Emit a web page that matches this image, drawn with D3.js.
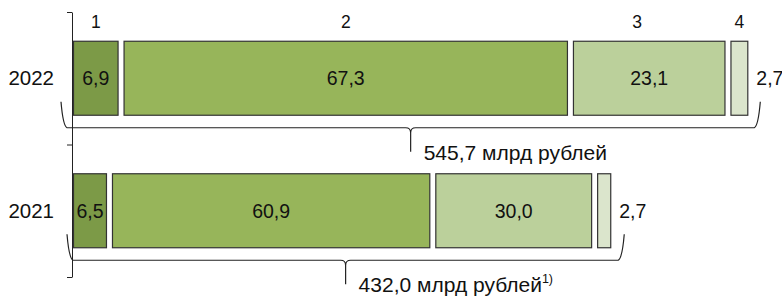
<!DOCTYPE html>
<html>
<head>
<meta charset="utf-8">
<script src="https://cdn.jsdelivr.net/npm/d3@7"></script>
<style>
  body { margin: 0; background: #fff; }
  svg { display: block; font-family: Arial, "Liberation Sans", sans-serif; }
</style>
</head>
<body>
<div id="chart"></div>
<script>
// données
const years = ["2022", "2021"];
const categories = ["1", "2", "3", "4"];
const shares2022 = [6.9, 67.3, 23.1, 2.7];
const shares2021 = [6.5, 60.9, 30.0, 2.7];
const totals = [545.7, 432.0];
const totalLabels = ["545,7 млрд рублей", "432,0 млрд рублей"];
const notes = ["", "1)"];

const shares = [shares2022, shares2021];
const colors = ["#7c9a47", "#97b55a", "#bbd09b", "#dbe5cc"];
const fmt = v => d3.format(".1f")(v).replace(".", ",");

const W = 782, H = 297;
const left = 73, gap = 5;
const braceLeft = [11, 5], braceRight = [11, 12]; // décalage des accolades
const catNudge = [0, 0, -12, 0];

const svg = d3.select("#chart").append("svg")
    .attr("width", W)
    .attr("height", H);

// échelles
const x = d3.scaleLinear().domain([0, 600]).range([0, 726]); // px par mlrd
const y = d3.scaleBand().domain(years).range([12, 277])
    .paddingInner(0.434).paddingOuter(0.217);

// axe vertical avec séparateurs
const yb = d3.scaleLinear().domain([0, years.length]).range([12, 277]);
svg.append("g")
    .attr("transform", `translate(${left - 1},0)`)
    .call(d3.axisLeft(yb).ticks(years.length).tickSize(5).tickSizeOuter(0).tickFormat(""))
    .call(g => g.selectAll("path, line").attr("stroke", "#222"));

years.forEach((year, i) => {
    const total = totals[i];
    let cum = 0;
    const segs = shares[i].map((v, j) => {
        const amount = v * total / 100;
        const s = { cat: categories[j], v, x0: left + x(cum) + j * gap, w: x(amount) };
        cum += amount;
        return s;
    });
    const y0 = y(year), bh = y.bandwidth(), yc = y0 + bh / 2;
    const end = segs[segs.length - 1].x0 + segs[segs.length - 1].w;

    const row = svg.append("g");

    row.selectAll("rect")
        .data(segs)
        .enter()
        .append("rect")
        .attr("x", d => d.x0 + 0.5)
        .attr("y", y0 + 0.5)
        .attr("width", d => d.w - 1)
        .attr("height", bh - 1)
        .attr("fill", (d, j) => colors[j])
        .attr("stroke", "#333")
        .attr("stroke-width", 1.2);

    // étiquettes de valeurs
    row.selectAll("text.val")
        .data(segs)
        .enter()
        .append("text")
        .attr("class", "val")
        .attr("x", (d, j) => j < 3 ? d.x0 + d.w / 2 : end + 8)
        .attr("y", yc)
        .attr("dy", "0.35em")
        .attr("text-anchor", (d, j) => j < 3 ? "middle" : "start")
        .attr("font-size", 19.5)
        .attr("fill", "#111")
        .text(d => fmt(d.v));

    // année
    row.append("text")
        .attr("x", 54)
        .attr("y", yc)
        .attr("dy", "0.35em")
        .attr("text-anchor", "end")
        .attr("font-size", 20.5)
        .attr("fill", "#111")
        .text(year);

    // numéros de catégories au-dessus de la première barre
    if (i === 0) {
        svg.selectAll("text.cat")
            .data(segs)
            .enter()
            .append("text")
            .attr("class", "cat")
            .attr("x", (d, j) => d.x0 + d.w / 2 + catNudge[j])
            .attr("y", 28)
            .attr("text-anchor", "middle")
            .attr("font-size", 17.5)
            .attr("fill", "#111")
            .text(d => d.cat);
    }

    // accolade
    const bl = left - braceLeft[i], br = end + braceRight[i];
    const by = y0 + bh + 12, top = by - 26, mid = (bl + br) / 2, r = 5;
    const p = d3.path();
    p.moveTo(bl - 1, top);
    p.quadraticCurveTo(bl + 1, by - 2, bl + r, by);
    p.lineTo(mid - r, by);
    p.quadraticCurveTo(mid, by, mid, by + r);
    p.lineTo(mid, by + 24);
    p.moveTo(mid, by + r);
    p.quadraticCurveTo(mid, by, mid + r, by);
    p.lineTo(br - r, by);
    p.quadraticCurveTo(br - 1, by - 2, br + 1, top);
    row.append("path")
        .attr("d", p.toString())
        .attr("fill", "none")
        .attr("stroke", "#222")
        .attr("stroke-width", 1.2);

    const lbl = row.append("text")
        .attr("x", mid + 13)
        .attr("y", by + 32)
        .attr("font-size", 21)
        .attr("fill", "#111")
        .text(totalLabels[i]);
    if (notes[i]) {
        lbl.append("tspan")
            .attr("font-size", 12.5)
            .attr("dy", -9)
            .text(notes[i]);
    }
});
</script>
</body>
</html>
